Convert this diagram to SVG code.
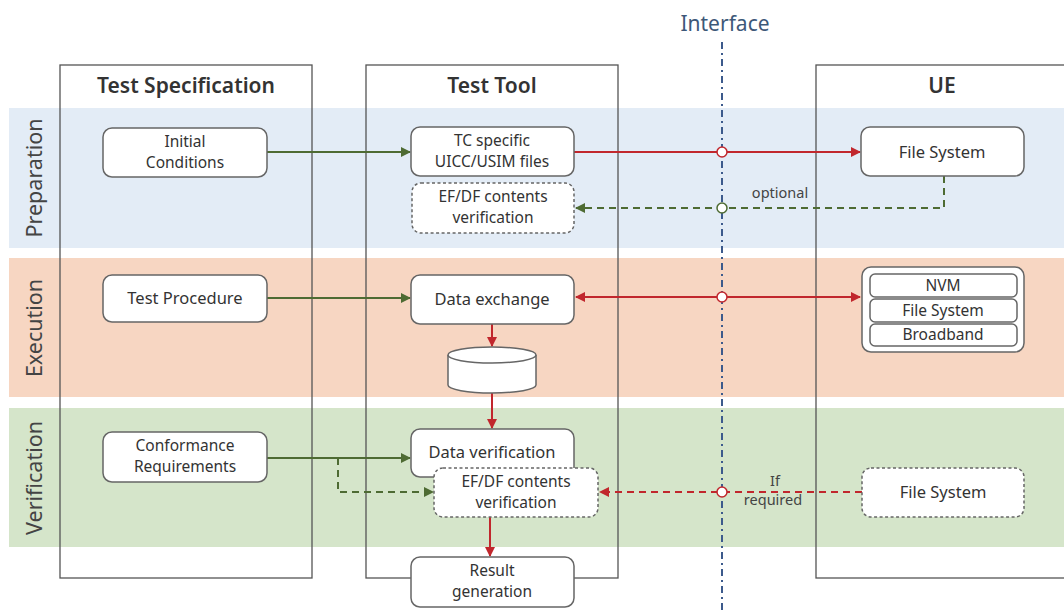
<svg xmlns="http://www.w3.org/2000/svg" width="1064" height="614" viewBox="0 0 1064 614">
<defs>
<style>
text{font-family:"Noto Sans","Open Sans","Liberation Sans",sans-serif;fill:#333;}
.hdr{font-size:21px;font-weight:600;text-anchor:middle;}
.phase{font-size:21.5px;text-anchor:middle;fill:#444;}
.nt{font-size:16.5px;text-anchor:middle;}
.nt2{font-size:15.5px;text-anchor:middle;}
.lbl{font-size:14.5px;text-anchor:middle;fill:#444;}
.col{fill:none;stroke:#555;stroke-width:1.3;}
.box{fill:#fff;stroke:#666;stroke-width:1.5;}
.dbox{fill:#fff;stroke:#666;stroke-width:1.5;stroke-dasharray:3 2.5;}
.g{stroke:#4e6b33;stroke-width:2;fill:none;}
.gd{stroke:#4e6b33;stroke-width:2;fill:none;stroke-dasharray:7 5;}
.r{stroke:#c1272d;stroke-width:2;fill:none;}
.rd{stroke:#c1272d;stroke-width:2;fill:none;stroke-dasharray:7 5;}
</style>
<marker id="ag" viewBox="0 0 10 10" refX="9" refY="5" markerWidth="5" markerHeight="5" orient="auto-start-reverse"><path d="M0,0L10,5L0,10z" fill="#4e6b33"/></marker>
<marker id="ar" viewBox="0 0 10 10" refX="9" refY="5" markerWidth="5" markerHeight="5" orient="auto-start-reverse"><path d="M0,0L10,5L0,10z" fill="#c1272d"/></marker>
</defs>
<rect width="1064" height="614" fill="#fff"/>
<g id="bands">
<rect x="9" y="108" width="1055" height="140" fill="#e3ecf6"/>
<rect x="9" y="258" width="1055" height="139" fill="#f7d6c2"/>
<rect x="9" y="408" width="1055" height="139" fill="#d5e5ca"/>
<text class="phase" transform="translate(42,178) rotate(-90)">Preparation</text>
<text class="phase" transform="translate(42,328) rotate(-90)">Execution</text>
<text class="phase" transform="translate(42,478) rotate(-90)">Verification</text>
</g>
<g id="columns">
<rect class="col" x="60" y="65" width="252" height="513"/>
<rect class="col" x="366" y="65" width="252" height="513"/>
<rect class="col" x="816" y="65" width="260" height="513"/>
<text class="hdr" x="186" y="93">Test Specification</text>
<text class="hdr" x="492" y="93">Test Tool</text>
<text class="hdr" x="942" y="93">UE</text>
</g>
<g id="interface">
<line x1="722" y1="42" x2="722" y2="614" stroke="#3c5a8c" stroke-width="2" stroke-dasharray="7 4 2 4"/>
<text x="725" y="31" font-size="21" text-anchor="middle" style="fill:#3d5878">Interface</text>
</g>
<g id="connectors">
<line class="g" x1="267" y1="152" x2="410" y2="152" marker-end="url(#ag)"/>
<line class="r" x1="574" y1="152" x2="860" y2="152" marker-end="url(#ar)"/>
<polyline class="gd" points="944,176 944,208 576,208" marker-end="url(#ag)"/>
<line class="g" x1="267" y1="298" x2="410" y2="298" marker-end="url(#ag)"/>
<line class="r" x1="576" y1="297" x2="860" y2="297" marker-start="url(#ar)" marker-end="url(#ar)"/>
<line class="r" x1="492" y1="324" x2="492" y2="346" marker-end="url(#ar)"/>
<line class="r" x1="492" y1="393" x2="492" y2="428" marker-end="url(#ar)"/>
<line class="g" x1="267" y1="458" x2="410" y2="458" marker-end="url(#ag)"/>
<polyline class="gd" points="338,458 338,492 433,492" marker-end="url(#ag)"/>
<line class="rd" x1="862" y1="492" x2="600" y2="492" marker-end="url(#ar)"/>
<line class="r" x1="490" y1="517" x2="490" y2="556" marker-end="url(#ar)"/>
<circle cx="722" cy="152" r="5" fill="#fff" stroke="#c1272d" stroke-width="1.5"/>
<circle cx="722" cy="208" r="5" fill="#fff" stroke="#4e6b33" stroke-width="1.5"/>
<circle cx="722" cy="297" r="5" fill="#fff" stroke="#c1272d" stroke-width="1.5"/>
<circle cx="722" cy="492" r="5" fill="#fff" stroke="#c1272d" stroke-width="1.5"/>
<text class="lbl" x="780" y="198">optional</text>
<text class="lbl" x="775" y="486">If</text>
<text class="lbl" x="773" y="505">required</text>
</g>
<g id="initial-conditions">
<rect class="box" x="103" y="128" width="164" height="49" rx="9"/>
<text class="nt2" x="185" y="147">Initial</text>
<text class="nt2" x="185" y="168">Conditions</text>
</g>
<g id="tc-files">
<rect class="box" x="411" y="127" width="163" height="49" rx="9"/>
<text class="nt2" x="492" y="146">TC specific</text>
<text class="nt2" x="492" y="167">UICC/USIM files</text>
</g>
<g id="efdf-prep">
<rect class="dbox" x="412" y="183" width="162" height="50" rx="9"/>
<text class="nt2" x="493" y="202">EF/DF contents</text>
<text class="nt2" x="493" y="223">verification</text>
</g>
<g id="fs-prep">
<rect class="box" x="861" y="127" width="163" height="49" rx="9"/>
<text class="nt" x="942" y="158">File System</text>
</g>
<g id="test-procedure">
<rect class="box" x="103" y="275" width="164" height="47" rx="9"/>
<text class="nt" x="185" y="304">Test Procedure</text>
</g>
<g id="data-exchange">
<rect class="box" x="411" y="275" width="163" height="49" rx="9"/>
<text class="nt" x="492" y="305">Data exchange</text>
</g>
<g id="database">
<path class="box" d="M448,355 L448,385 A44,8 0 0 0 536,385 L536,355"/>
<ellipse class="box" cx="492" cy="355" rx="44" ry="8"/>
</g>
<g id="ue-storage">
<rect class="box" x="862" y="267" width="162" height="85" rx="9"/>
<rect class="box" x="870" y="274" width="147" height="23" rx="5"/>
<rect class="box" x="870" y="299" width="147" height="23" rx="5"/>
<rect class="box" x="870" y="324" width="147" height="22" rx="5"/>
<text class="nt2" x="943" y="291">NVM</text>
<text class="nt2" x="943" y="316">File System</text>
<text class="nt2" x="943" y="340">Broadband</text>
</g>
<g id="conformance">
<rect class="box" x="103" y="432" width="164" height="50" rx="9"/>
<text class="nt2" x="185" y="451">Conformance</text>
<text class="nt2" x="185" y="472">Requirements</text>
</g>
<g id="data-verification">
<rect class="box" x="411" y="429" width="163" height="48" rx="9"/>
<text class="nt" x="492" y="458">Data verification</text>
</g>
<g id="efdf-ver">
<rect class="dbox" x="434" y="468" width="164" height="49" rx="9"/>
<text class="nt2" x="516" y="487">EF/DF contents</text>
<text class="nt2" x="516" y="508">verification</text>
</g>
<g id="result-generation">
<rect class="box" x="411" y="557" width="163" height="50" rx="9"/>
<text class="nt2" x="492" y="576">Result</text>
<text class="nt2" x="492" y="597">generation</text>
</g>
<g id="fs-ver">
<rect class="dbox" x="862" y="468" width="162" height="49" rx="9"/>
<text class="nt" x="943" y="498">File System</text>
</g>
</svg>
